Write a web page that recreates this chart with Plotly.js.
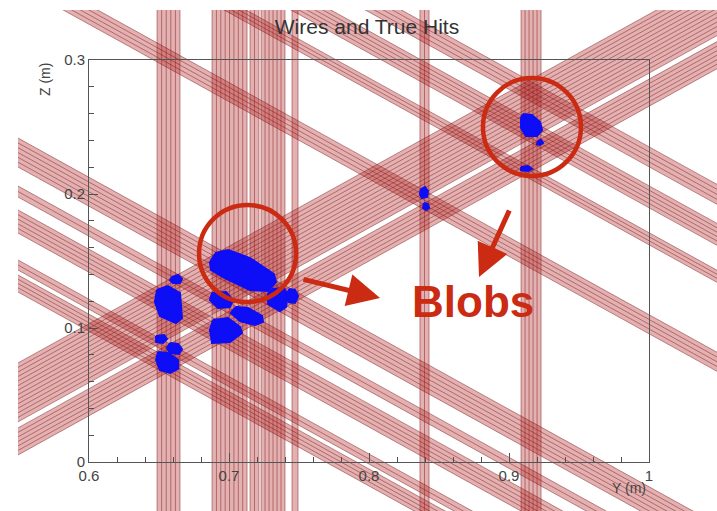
<!DOCTYPE html>
<html>
<head>
<meta charset="utf-8">
<script src="https://cdn.plot.ly/plotly-3.0.1.min.js"></script>
<style>
  html, body { margin: 0; padding: 0; background: #ffffff; }
  #chart { width: 717px; height: 511px; }
</style>
</head>
<body>
<div id="chart"></div>
<script>
// Wire pitch (m), same for the three planes
const pitch = 0.003;

// Collection plane (vertical wires): Y extent (m) of each group of hit wires
const wBands = [[0.6486, 0.6650], [0.6879, 0.7129], [0.7150, 0.7214], [0.7229, 0.7400], [0.7450, 0.7493],
                [0.8364, 0.8429], [0.9086, 0.9229]];
// Induction plane at -30 deg: u = 0.5*Y + cos30*Z (m)
const uBands = [[0.3845, 0.3955], [0.3987, 0.4052], [0.4226, 0.4375], [0.4459, 0.4530], [0.4653, 0.4840],
                [0.5829, 0.5952], [0.6404, 0.6482], [0.6643, 0.6785], [0.6908, 0.7037]];
// Induction plane at +30 deg: v = -0.5*Y + cos30*Z (m)
const vBands = [[-0.2701, -0.2526], [-0.2487, -0.2106]];

// True hits, outlined as blobs in (Y, Z)
const blobY = [
  [0.6864, 0.6907, 0.6993, 0.7150, 0.7321, 0.7336, 0.7279, 0.7150, 0.6971, 0.6871],
  [0.6486, 0.6564, 0.6650, 0.6664, 0.6621, 0.6507, 0.6471],
  [0.6593, 0.6636, 0.6664, 0.6650, 0.6600, 0.6579],
  [0.6879, 0.6979, 0.7029, 0.7007, 0.6921, 0.6864],
  [0.7050, 0.7136, 0.7236, 0.7243, 0.7186, 0.7079, 0.7014],
  [0.6886, 0.6993, 0.7079, 0.7093, 0.7007, 0.6879, 0.6864],
  [0.7307, 0.7393, 0.7421, 0.7407, 0.7364, 0.7279, 0.7279],
  [0.7429, 0.7471, 0.7493, 0.7471, 0.7429, 0.7414],
  [0.6479, 0.6536, 0.6557, 0.6529, 0.6479],
  [0.6579, 0.6636, 0.6664, 0.6643, 0.6579, 0.6557],
  [0.6493, 0.6564, 0.6636, 0.6636, 0.6579, 0.6507, 0.6479],
  [0.9100, 0.9164, 0.9221, 0.9236, 0.9200, 0.9121, 0.9086, 0.9086],
  [0.9207, 0.9229, 0.9243, 0.9221, 0.9200],
  [0.9086, 0.9136, 0.9164, 0.9136, 0.9086],
  [0.8371, 0.8400, 0.8421, 0.8414, 0.8379, 0.8364],
  [0.8393, 0.8421, 0.8429, 0.8407, 0.8386]
];
const blobZ = [
  [0.1493, 0.1560, 0.1582, 0.1522, 0.1403, 0.1343, 0.1276, 0.1284, 0.1373, 0.1433],
  [0.1284, 0.1313, 0.1261, 0.1075, 0.1037, 0.1090, 0.1194],
  [0.1381, 0.1396, 0.1366, 0.1336, 0.1336, 0.1358],
  [0.1261, 0.1269, 0.1209, 0.1157, 0.1149, 0.1209],
  [0.1157, 0.1149, 0.1090, 0.1045, 0.1022, 0.1052, 0.1112],
  [0.1060, 0.1075, 0.1007, 0.0963, 0.0896, 0.0888, 0.0985],
  [0.1291, 0.1299, 0.1246, 0.1157, 0.1127, 0.1179, 0.1254],
  [0.1291, 0.1284, 0.1239, 0.1187, 0.1194, 0.1246],
  [0.0940, 0.0948, 0.0918, 0.0888, 0.0896],
  [0.0888, 0.0881, 0.0843, 0.0806, 0.0813, 0.0851],
  [0.0821, 0.0813, 0.0761, 0.0694, 0.0664, 0.0687, 0.0761],
  [0.2597, 0.2590, 0.2537, 0.2478, 0.2433, 0.2433, 0.2493, 0.2567],
  [0.2396, 0.2403, 0.2381, 0.2366, 0.2373],
  [0.2201, 0.2209, 0.2187, 0.2172, 0.2179],
  [0.2037, 0.2052, 0.2022, 0.1978, 0.1970, 0.2000],
  [0.1933, 0.1925, 0.1896, 0.1881, 0.1896]
];

// Axis ticks of the Y-Z frame
const yTicks = [0.6, 0.7, 0.8, 0.9, 1.0];
const yTickText = ['0.6', '0.7', '0.8', '0.9', '1'];
const zTicks = [0, 0.1, 0.2, 0.3];
const zTickText = ['0', '0.1', '0.2', '0.3'];

// ---- geometry helpers -------------------------------------------------
const C30 = Math.sqrt(3) / 2;
const YA = 0.45, YB = 1.15;        // wires run well past the drawing area
const ZA = -0.15, ZB = 0.45;
const zU = (u, y) => (u - 0.5 * y) / C30;   // -30 deg plane
const zV = (v, y) => (v + 0.5 * y) / C30;   // +30 deg plane

const FILL = 'rgba(178,40,40,0.36)';
const WIRE = 'rgba(120,20,20,0.62)';

const traces = [];

function addBand(lo, hi, kind) {
  let px, py;
  if (kind === 'w') {
    px = [lo, hi, hi, lo, lo];
    py = [ZA, ZA, ZB, ZB, ZA];
  } else {
    const f = kind === 'u' ? zU : zV;
    px = [YA, YB, YB, YA, YA];
    py = [f(lo, YA), f(lo, YB), f(hi, YB), f(hi, YA), f(lo, YA)];
  }
  traces.push({
    type: 'scatter', mode: 'lines', x: px, y: py, xaxis: 'x', yaxis: 'y',
    fill: 'toself', fillcolor: FILL, line: { width: 0 }, hoverinfo: 'skip', showlegend: false
  });
  // individual wire boundaries inside the band
  const n = Math.max(1, Math.round((hi - lo) / pitch));
  const step = (hi - lo) / n;
  const lx = [], ly = [];
  for (let k = 0; k <= n; k++) {
    const c = lo + k * step;
    if (kind === 'w') { lx.push(c, c, null); ly.push(ZA, ZB, null); }
    else {
      const f = kind === 'u' ? zU : zV;
      lx.push(YA, YB, null); ly.push(f(c, YA), f(c, YB), null);
    }
  }
  traces.push({
    type: 'scatter', mode: 'lines', x: lx, y: ly, xaxis: 'x', yaxis: 'y',
    line: { color: WIRE, width: 0.75 }, hoverinfo: 'skip', showlegend: false
  });
}

wBands.forEach(b => addBand(b[0], b[1], 'w'));
uBands.forEach(b => addBand(b[0], b[1], 'u'));
vBands.forEach(b => addBand(b[0], b[1], 'v'));

// true-hit blobs, drawn inside the frame
blobY.forEach((bx, i) => {
  traces.push({
    type: 'scatter', mode: 'lines', x: bx.concat([bx[0]]), y: blobZ[i].concat([blobZ[i][0]]),
    xaxis: 'x2', yaxis: 'y2', fill: 'toself', fillcolor: '#0d0df6',
    line: { color: '#0d0df6', width: 2 },
    hoverinfo: 'skip', showlegend: false
  });
});

const W = 717, H = 511;
const RED = '#cb2b12';
const FAM = 'Liberation Sans, Arial, sans-serif';
const tickFont = { family: FAM, size: 15, color: '#444444' };

const layout = {
  width: W, height: H,
  margin: { l: 0, r: 0, t: 0, b: 0, pad: 0 },
  paper_bgcolor: '#ffffff', plot_bgcolor: 'rgba(0,0,0,0)',
  showlegend: false,
  title: {
    text: 'Wires and True Hits', x: 367 / W, xanchor: 'center', xref: 'paper',
    y: 1 - 27 / H, yanchor: 'middle', yref: 'paper',
    font: { family: FAM, size: 21, color: '#333333' }
  },
  // full canvas where the wires are drawn
  xaxis: { domain: [18 / W, 1], range: [0.6 - 71 / 1400, 0.6 + 628 / 1400], visible: false, fixedrange: true },
  yaxis: { domain: [0, 1 - 10 / H], range: [-49 / 1340, 452 / 1340], visible: false, fixedrange: true },
  // Y-Z frame
  xaxis2: {
    domain: [89 / W, 649 / W], anchor: 'y2', range: [0.6, 1.0],
    tickmode: 'array', tickvals: yTicks, ticktext: yTickText,
    ticks: 'inside', ticklen: 9, tickwidth: 1, tickcolor: '#505050',
    minor: { ticks: 'inside', tickmode: 'linear', tick0: 0.6, dtick: 0.02, ticklen: 5, tickcolor: '#505050', showgrid: false },
    showline: true, linecolor: '#555555', linewidth: 1, mirror: true,
    showgrid: false, zeroline: false, tickfont: tickFont, fixedrange: true
  },
  yaxis2: {
    domain: [49 / H, 451 / H], anchor: 'x2', range: [0, 0.3],
    tickmode: 'array', tickvals: zTicks, ticktext: zTickText,
    ticks: 'inside', ticklen: 9, tickwidth: 1, tickcolor: '#505050',
    minor: { ticks: 'inside', tickmode: 'linear', tick0: 0, dtick: 0.02, ticklen: 5, tickcolor: '#505050', showgrid: false },
    showline: true, linecolor: '#555555', linewidth: 1, mirror: true,
    showgrid: false, zeroline: false, tickfont: tickFont, fixedrange: true
  },
  shapes: [
    { type: 'circle', xref: 'x', yref: 'y', x0: 0.6786, x1: 0.7479, y0: 0.1194, y1: 0.1918,
      line: { color: RED, width: 4.5 }, layer: 'above' },
    { type: 'circle', xref: 'x', yref: 'y', x0: 0.8814, x1: 0.9514, y0: 0.2134, y1: 0.2866,
      line: { color: RED, width: 4.5 }, layer: 'above' }
  ],
  annotations: [
    { text: 'Z (m)', xref: 'paper', yref: 'paper', x: 45 / W, y: 1 - 80 / H, showarrow: false,
      xanchor: 'center', yanchor: 'middle', textangle: -90, font: { family: FAM, size: 14, color: '#444' } },
    { text: 'Y (m)', xref: 'paper', yref: 'paper', x: 629 / W, y: 1 - 488 / H, showarrow: false,
      xanchor: 'center', yanchor: 'middle', font: { family: FAM, size: 14, color: '#444' } },
    { text: '', xref: 'x', yref: 'y', axref: 'x', ayref: 'y',
      x: 0.8079, y: 0.1224, ax: 0.7521, ay: 0.1366,
      showarrow: true, arrowhead: 2, arrowwidth: 5, arrowsize: 1.3, arrowcolor: RED, standoff: 0 },
    { text: '', xref: 'x', yref: 'y', axref: 'x', ayref: 'y',
      x: 0.8786, y: 0.1381, ax: 0.9007, ay: 0.1888,
      showarrow: true, arrowhead: 2, arrowwidth: 5, arrowsize: 1.3, arrowcolor: RED, standoff: 0 },
    { text: '<b>Blobs</b>', xref: 'x', yref: 'y', x: 0.8743, y: 0.1201, showarrow: false,
      xanchor: 'center', yanchor: 'middle',
      font: { family: FAM, size: 44, color: RED } }
  ]
};

Plotly.newPlot('chart', traces, layout, { displayModeBar: false, staticPlot: true });
</script>
</body>
</html>
